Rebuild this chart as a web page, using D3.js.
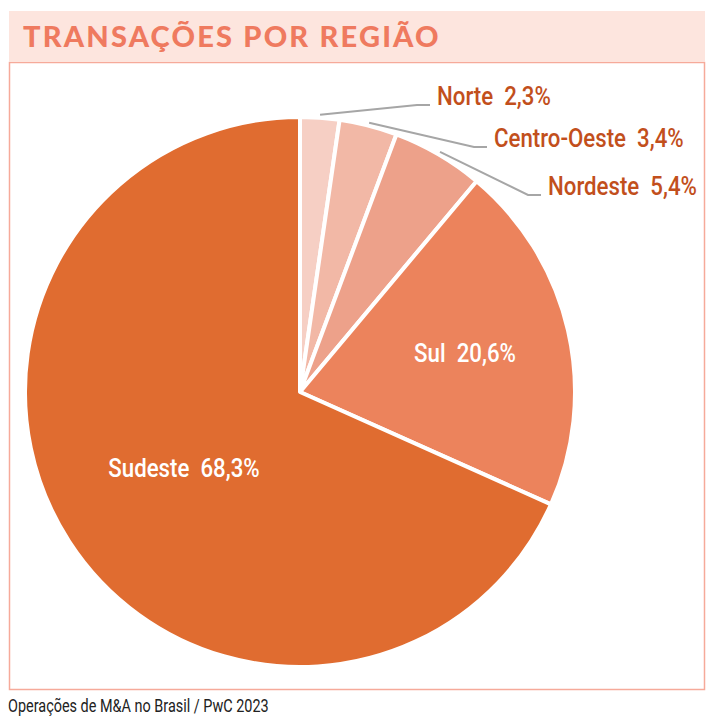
<!DOCTYPE html>
<html>
<head>
<meta charset="utf-8">
<script src="https://cdn.jsdelivr.net/npm/d3@7"></script>
<style>
  body { margin: 0; background: #fff; }
  .lbl { font-family: Roboto, "Noto Sans", sans-serif; font-weight: 500; }
</style>
</head>
<body>
<svg class="chart"></svg>
<script>
// data
var regions = ["Norte", "Centro-Oeste", "Nordeste", "Sul", "Sudeste"];
var shares = [2.3, 3.4, 5.4, 20.6, 68.3];
var shareLabels = ["2,3%", "3,4%", "5,4%", "20,6%", "68,3%"];
var fills = ["#f6cfc4", "#f2b8a6", "#eda18a", "#ec835c", "#e06c30"];

var W = 716, H = 720;
var cx = 300, cy = 392, radius = 275;

// where the outside labels go (left x, baseline y), null = inside
var outside = [[437, 105], [494, 147], [548, 195], null, null];

var svg = d3.select(".chart")
	.attr("width", W)
	.attr("height", H);

// frame + title bar
svg.append("rect")
	.attr("x", 9.5).attr("y", 62.5)
	.attr("width", 695).attr("height", 627)
	.attr("fill", "none")
	.attr("stroke", "#f6aa9a")
	.attr("stroke-width", 1.5);

svg.append("rect")
	.attr("x", 9).attr("y", 11)
	.attr("width", 696).attr("height", 51)
	.attr("fill", "#fde5de");

svg.append("text")
	.attr("x", 23).attr("y", 47)
	.attr("fill", "#ef7a5f")
	.style("font-family", "Lato, 'Open Sans', sans-serif")
	.style("font-weight", "900")
	.style("font-size", "29px")
	.style("letter-spacing", "2.2px")
	.text("TRANSAÇÕES POR REGIÃO");

// helper for squeezed text (the original font is a condensed one)
function label(parent, x, y, txt, anchor, sx) {
	return parent.append("text")
		.attr("class", "lbl")
		.attr("transform", "translate(" + x + "," + y + ") scale(" + (sx || 0.89) + ",1)")
		.attr("text-anchor", anchor || "start")
		.text(txt);
}

// pie
var data = regions.map(function(r, i) {
	return {region: r, value: shares[i], label: shareLabels[i], fill: fills[i], out: outside[i]};
});

var pie = d3.pie()
	.sort(null)
	.value(function(d) { return d.value; });

var arc = d3.arc().innerRadius(0).outerRadius(radius);
var edge = d3.arc().innerRadius(radius + 3).outerRadius(radius + 3);

var g = svg.append("g")
	.attr("transform", "translate(" + cx + "," + cy + ")");

var arcs = pie(data);

g.selectAll(".slice")
	.data(arcs)
	.enter().append("path")
	.attr("class", "slice")
	.attr("d", arc)
	.attr("fill", function(d) { return d.data.fill; })
	.attr("stroke", "#fff")
	.attr("stroke-width", 4)
	.attr("stroke-linejoin", "round");

// leader lines for small slices
arcs.filter(function(d) { return d.data.out; }).forEach(function(d) {
	var p = edge.centroid(d);
	var lx = d.data.out[0] - cx, ly = d.data.out[1] - cy;
	g.append("polyline")
		.attr("points", [p, [lx - 20, ly], [lx - 7, ly]].join(" "))
		.attr("fill", "none")
		.attr("stroke", "#a6a6a6")
		.attr("stroke-width", 2);
	label(g, lx, ly, d.data.region + "\u00a0 " + d.data.label)
		.attr("fill", "#c24f1c")
		.style("font-size", "25px");
});

// labels inside the big slices
var insidePos = {3: [465, 362], 4: [184, 477]};
arcs.filter(function(d) { return !d.data.out; }).forEach(function(d) {
	var pos = insidePos[d.index];
	label(g, pos[0] - cx, pos[1] - cy, d.data.region + "\u00a0 " + d.data.label, "middle")
		.attr("fill", "#fff")
		.style("font-size", "25px");
});

// source
label(svg, 8, 712, "Operações de M&A no Brasil / PwC 2023", "start", 0.76)
	.attr("fill", "#222")
	.style("font-weight", "normal")
	.style("font-size", "19px");
</script>
</body>
</html>
